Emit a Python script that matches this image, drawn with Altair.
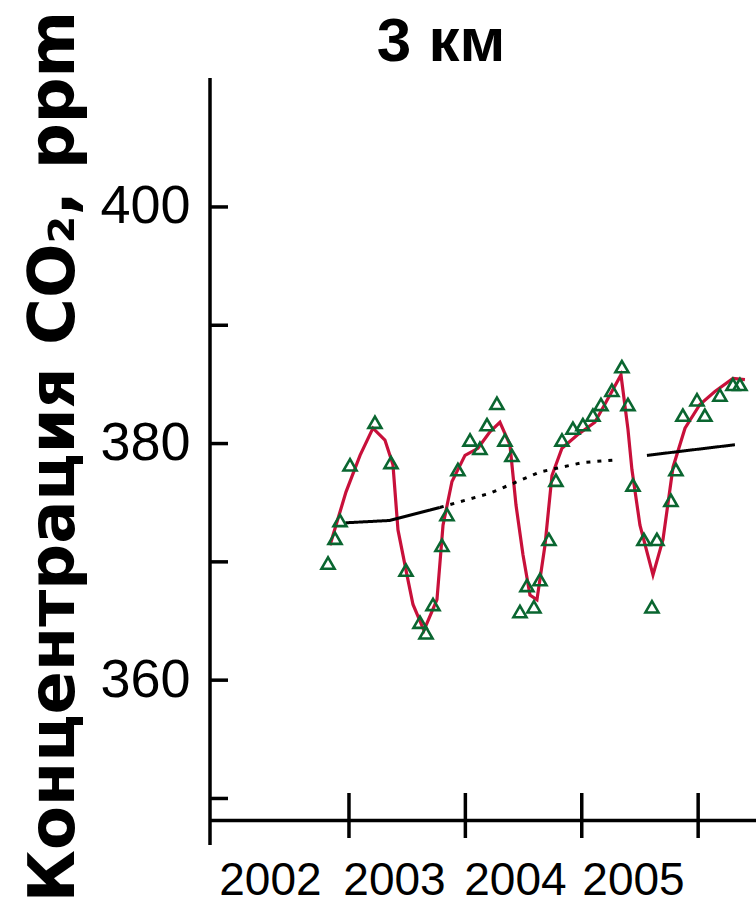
import altair as alt
import pandas as pd

# ---- data ----
red_year = [2002.837, 2002.974, 2003.095, 2003.206, 2003.309, 2003.378, 2003.421, 2003.498,
            2003.550, 2003.644, 2003.756, 2003.808, 2003.885, 2003.997, 2004.108, 2004.211,
            2004.297, 2004.383, 2004.435, 2004.495, 2004.555, 2004.615, 2004.684, 2004.744,
            2004.830, 2004.959, 2005.113, 2005.242, 2005.337, 2005.397, 2005.431, 2005.500,
            2005.612, 2005.698, 2005.784, 2005.887, 2006.015, 2006.144, 2006.299, 2006.402]
red_ppm = [371.4, 375.9, 379.0, 381.3, 380.3, 378.2, 372.7, 368.9,
           366.4, 364.2, 366.8, 373.1, 376.8, 379.0, 379.6, 381.0,
           381.8, 379.9, 374.8, 370.6, 367.2, 366.8, 371.4, 377.3,
           379.6, 380.7, 381.8, 384.1, 385.8, 381.2, 377.8, 373.1,
           368.9, 371.9, 378.0, 381.3, 383.3, 384.4, 385.5, 385.4]

green_year = [2002.820, 2002.880, 2002.923, 2003.009, 2003.223, 2003.361, 2003.490, 2003.610,
              2003.662, 2003.722, 2003.799, 2003.842, 2003.936, 2004.040, 2004.125, 2004.186,
              2004.271, 2004.340, 2004.400, 2004.469, 2004.529, 2004.589, 2004.641, 2004.718,
              2004.778, 2004.830, 2004.924, 2005.010, 2005.096, 2005.165, 2005.259, 2005.345,
              2005.397, 2005.440, 2005.534, 2005.603, 2005.646, 2005.766, 2005.809, 2005.869,
              2005.990, 2006.058, 2006.187, 2006.299, 2006.359]
green_ppm = [369.9, 372.0, 373.5, 378.2, 381.8, 378.4, 369.3, 364.9,
             364.0, 366.4, 371.4, 374.0, 377.8, 380.3, 379.6, 381.6,
             383.4, 380.3, 379.0, 365.8, 368.0, 366.2, 368.5, 371.9,
             376.9, 380.3, 381.3, 381.6, 382.4, 383.3, 384.5, 386.5,
             383.3, 376.5, 371.9, 366.2, 371.9, 375.2, 377.8, 382.4,
             383.7, 382.4, 384.1, 385.0, 385.0]

trend_year = [2002.970, 2003.350, 2003.780,
              2003.780, 2004.211, 2004.641, 2005.010, 2005.268,
              2005.560, 2006.316]
trend_ppm = [373.3, 373.5, 374.6,
             374.6, 375.8, 377.6, 378.4, 378.6,
             379.0, 379.9]
trend_seg = ["a", "a", "a", "b", "b", "b", "b", "b", "c", "c"]
trend_style = ["solid", "solid", "solid", "dotted", "dotted", "dotted", "dotted", "dotted",
               "solid", "solid"]

x_tick_values = [2003, 2004, 2005, 2006]
x_label_pos = [2002.321, 2003.387, 2004.426, 2005.440]
x_tick_labels = ["2002", "2003", "2004", "2005"]
y_label_values = [360, 380, 400]
y_tick_values = [350, 360, 370, 380, 390, 400]

title_text = "3 км"
y_title = "Концентрация CO₂, ppm"

# ---- chart ----
W, H = 546, 742
x_scale = alt.Scale(domain=[2001.806, 2006.497], nice=False, zero=False)
y_scale = alt.Scale(domain=[348.18, 410.9], nice=False, zero=False)

label_expr = ""
for v, l in zip(x_label_pos, x_tick_labels):
    label_expr += f"abs(datum.value - {v}) < 0.01 ? '{l}' : "
label_expr += "''"

x_axis = alt.Axis(values=x_label_pos, labelExpr=label_expr, ticks=False, grid=False,
                  domain=True, domainWidth=3.5, domainColor="black",
                  labelFont="Liberation Sans", labelFontSize=46, labelColor="black",
                  labelPadding=38, labelBaseline="top", labelAlign="center",
                  labelFlush=False, labelOverlap=False, title=None, zindex=1)
y_axis = alt.Axis(values=y_label_values, format="d", ticks=False, grid=False, domain=False,
                  labelFont="Liberation Sans", labelFontSize=54, labelColor="black",
                  labelPadding=20, labelFlush=False, labelOverlap=False,
                  title=y_title, titleFont="DejaVu Sans", titleFontSize=64,
                  titleFontWeight="bold", titleColor="black", titleAngle=270,
                  titleX=-137, titleY=378, titleBaseline="alphabetic", titleAlign="center",
                  zindex=1)

X = alt.X("year:Q", scale=x_scale, axis=x_axis)
Y = alt.Y("ppm:Q", scale=y_scale, axis=y_axis)

red_df = pd.DataFrame({"year": red_year, "ppm": red_ppm})
green_df = pd.DataFrame({"year": green_year, "ppm": green_ppm})
trend_df = pd.DataFrame({"year": trend_year, "ppm": trend_ppm, "seg": trend_seg,
                         "style": trend_style})

red = alt.Chart(red_df).mark_line(color="#c8103a", strokeWidth=3.2).encode(
    x=X, y=Y, order="year:Q",
)

green = alt.Chart(green_df).mark_point(shape="triangle-up", filled=False, size=170,
                                       strokeWidth=2.6, color="#0a6630", opacity=1).encode(
    x=X, y=Y,
)

trend = alt.Chart(trend_df).mark_line(color="black", strokeWidth=3).encode(
    x=X, y=Y,
    detail="seg:N",
    strokeDash=alt.StrokeDash("style:N", scale=alt.Scale(domain=["solid", "dotted"],
                                                          range=[[1, 0], [4, 7]]),
                              legend=None),
)

ytick_df = pd.DataFrame({"ppm": y_tick_values})
yticks = alt.Chart(ytick_df).mark_rule(color="black", strokeWidth=3.5).encode(
    y=Y, x=alt.value(0), x2=alt.value(18),
)

xtick_df = pd.DataFrame({"year": x_tick_values})
xticks = alt.Chart(xtick_df).mark_rule(color="black", strokeWidth=3.5).encode(
    x=X, y=alt.value(H - 27), y2=alt.value(H + 18),
)

yline = alt.Chart(pd.DataFrame({"a": [0]})).mark_rule(color="black", strokeWidth=3.5).encode(
    x=alt.value(0), y=alt.value(0), y2=alt.value(H + 25),
)

title_mark = alt.Chart(pd.DataFrame({"t": [title_text]})).mark_text(
    font="Liberation Sans", fontSize=62, fontWeight="bold", color="black",
    align="center", baseline="alphabetic",
).encode(text="t:N", x=alt.value(231), y=alt.value(-17))

chart = alt.layer(red, yticks, xticks, yline, trend, green, title_mark).properties(
    width=W, height=H,
    padding={"left": 210, "top": 78, "right": 0, "bottom": 87},
    autosize=alt.AutoSizeParams(type="none"),
    background="white",
).configure_view(stroke=None)

chart.save("out.html", embed_options={"renderer": "svg", "actions": False})
